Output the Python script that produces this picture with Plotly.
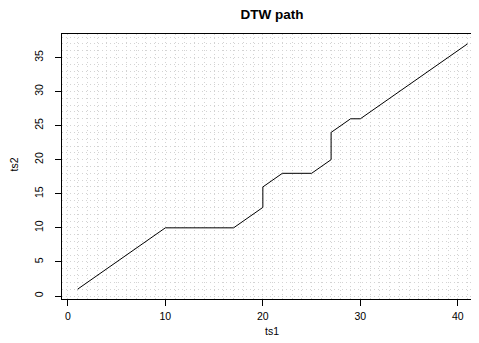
import plotly.graph_objects as go

# DTW warping path vertices (index in ts1, index in ts2)
ts1_idx = [1, 10, 17, 20, 20, 22, 25, 27, 27, 29, 30, 41]
ts2_idx = [1, 10, 10, 13, 16, 18, 18, 20, 24, 26, 26, 37]

x_ticks = [0, 10, 20, 30, 40]
y_ticks = [0, 5, 10, 15, 20, 25, 30, 35]

# page body has an 8px margin; size the figure to fit inside the window
OFF = 8
W, H = 479 - OFF, 343 - OFF
L, R, T, B = 62 - OFF, 0, 34 - OFF, 343 - 299
px_per_x = 9.75
x0 = -0.6
x1 = x0 + (W - L - R) / px_per_x
PW, PH = W - L - R, H - T - B

fig = go.Figure()
fig.add_trace(go.Scatter(x=ts1_idx, y=ts2_idx, mode="lines",
                         line=dict(color="black", width=1), showlegend=False,
                         hoverinfo="skip"))

font = "Liberation Sans, Arial, Helvetica, sans-serif"
grid = dict(dtick=1, tick0=0, showgrid=True, gridcolor="#d3d3d3",
            griddash="1px,3px", gridwidth=1, ticks="")

def px(xw):  # window x -> paper x
    return (xw - OFF - L) / PW

def py(yw):  # window y -> paper y
    return (H - B - (yw - OFF)) / PH

fig.update_layout(
    width=W, height=H,
    margin=dict(l=L, r=R, t=T, b=B),
    paper_bgcolor="white", plot_bgcolor="white",
    font=dict(family=font, size=11, color="black"),
    title=dict(text="<b>DTW path</b>", x=px(272), xref="paper",
               xanchor="center", y=1 - (14.5 - OFF) / H, yanchor="middle",
               font=dict(size=13.5, family=font, color="black")),
    xaxis=dict(range=[x0, x1], tickvals=x_ticks, ticks="outside", ticklen=6,
               tickcolor="black", showline=True, linecolor="black", linewidth=1,
               mirror=True, zeroline=False, automargin=False,
               ticklabelstandoff=1, tickfont=dict(size=10.5),
               showgrid=False, minor=grid),
    yaxis=dict(range=[-0.44, 38.44], tickvals=y_ticks, ticks="outside", ticklen=6,
               tickcolor="black", showline=True, linecolor="black", linewidth=1,
               mirror=False, zeroline=False, tickangle=-90, automargin=False,
               ticklabelstandoff=8, tickfont=dict(size=10.5),
               showgrid=False, minor=grid),
    annotations=[
        dict(text="ts1", xref="paper", yref="paper", x=px(272), y=py(331),
             xanchor="center", yanchor="middle", showarrow=False,
             font=dict(size=10.5)),
        dict(text="ts2", xref="paper", yref="paper", x=px(13.5), y=py(165),
             xanchor="center", yanchor="middle", textangle=-90,
             showarrow=False, font=dict(size=10.5)),
    ],
)

fig.write_html("out.html")
